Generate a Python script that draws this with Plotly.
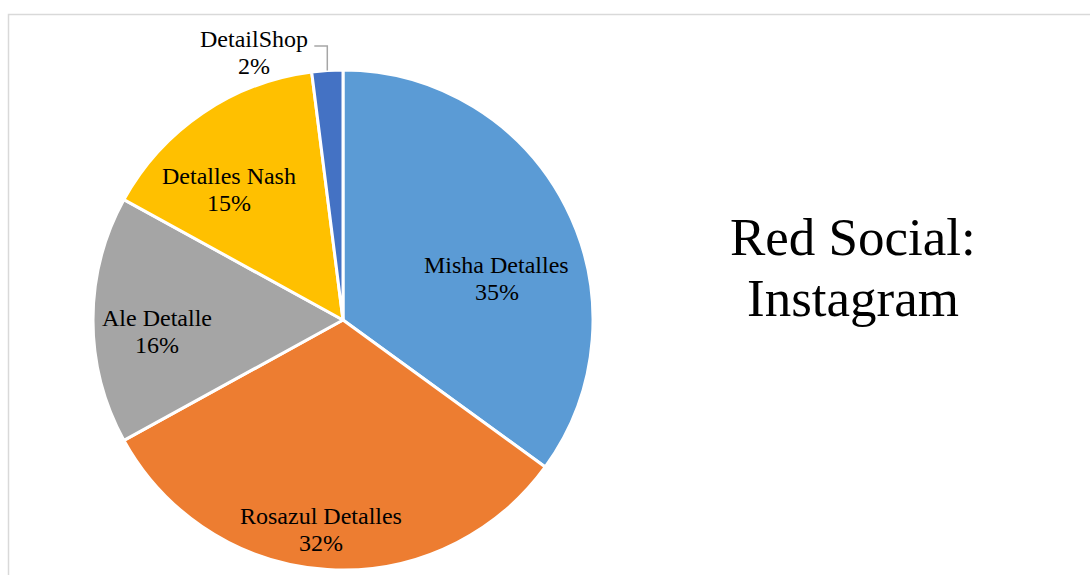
import math
import plotly.graph_objects as go

# ---- data ----
labels = ["Misha Detalles", "Rosazul Detalles", "Ale Detalle", "Detalles Nash", "DetailShop"]
values = [35, 32, 16, 15, 2]
colors = ["#5B9BD5", "#ED7D31", "#A5A5A5", "#FFC000", "#4472C4"]
title_lines = ["Red Social:", "Instagram"]

# ---- layout constants ----
W, H = 1090, 575
CX, CY, R = 343, 320, 250          # pie centre / radius in px
LABEL_R = [0.636, 0.844, 0.744, 0.692]
LABEL_SHIFT = [12.0, 2.4, -3.4, -7.0]
FONT = "Liberation Serif, Times New Roman, serif"
LABEL_SIZE = 24
TITLE_SIZE = 53
HALF_GAP = 13.5   # half the line spacing of data labels (px)


def px(x, y):
    return x / W, 1 - y / H


fig = go.Figure()
fig.add_trace(go.Pie(
    labels=labels, values=values, sort=False, direction="clockwise", rotation=0,
    marker=dict(colors=colors, line=dict(color="white", width=3)),
    textinfo="none", hoverinfo="label+percent", showlegend=False,
    domain=dict(x=[(CX - R) / W, (CX + R) / W], y=[1 - (CY + R) / H, 1 - (CY - R) / H]),
))

total = sum(values)
annotations = []
shapes = []
cum = 0.0
for i, (lab, v) in enumerate(zip(labels, values)):
    frac = v / total
    mid = (cum + frac / 2) * 360
    cum += frac
    pct = f"{round(frac * 100)}%"
    if i < len(LABEL_R):
        a = math.radians(mid + LABEL_SHIFT[i])
        r = LABEL_R[i] * R
        cx_, cy_ = CX + r * math.sin(a), CY - r * math.cos(a)
    else:
        a = math.radians(mid)
        ex, ey = CX + R * math.sin(a), CY - R * math.cos(a)
        ly = ey - 24.5
        lx = ex - 13
        pts = [(ex, ey), (ex, ly), (lx, ly)]
        path = "M " + " L ".join(f"{p[0] / W},{1 - p[1] / H}" for p in pts)
        shapes.append(dict(type="path", xref="paper", yref="paper", path=path,
                           line=dict(color="#A6A6A6", width=1.5)))
        cx_, cy_ = lx - 60, ly + 6.5
    for txt, dy in ((lab, -HALF_GAP), (pct, HALF_GAP)):
        x, y = px(cx_, cy_ + dy)
        annotations.append(dict(x=x, y=y, xref="paper", yref="paper", text=txt,
                                showarrow=False, xanchor="center", yanchor="middle",
                                font=dict(family=FONT, size=LABEL_SIZE, color="black")))

# title (two separate lines for tighter line spacing)
for line, ypx in zip(title_lines, [237, 298]):
    tx, ty = px(853, ypx)
    annotations.append(dict(x=tx, y=ty, xref="paper", yref="paper", text=line, showarrow=False,
                            xanchor="center", yanchor="middle",
                            font=dict(family=FONT, size=TITLE_SIZE, color="black")))

# chart frame (cropped at right/bottom)
shapes.append(dict(type="rect", xref="paper", yref="paper",
                   x0=8.5 / W, x1=1.05, y0=-0.05, y1=1 - 14.5 / H,
                   line=dict(color="#D9D9D9", width=1.5), fillcolor="rgba(0,0,0,0)"))

fig.update_layout(width=W, height=H, margin=dict(l=0, r=0, t=0, b=0),
                  paper_bgcolor="white", plot_bgcolor="white",
                  annotations=annotations, shapes=shapes)
fig.write_html("out.html")
